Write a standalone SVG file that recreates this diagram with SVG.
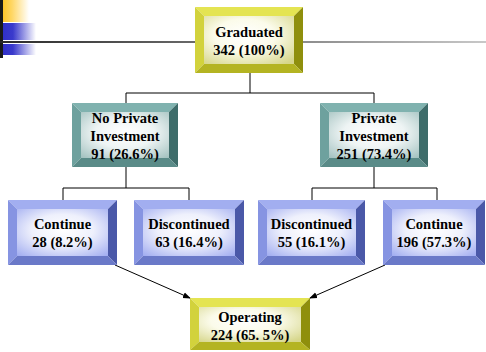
<svg xmlns="http://www.w3.org/2000/svg" width="486" height="352" viewBox="0 0 486 352">
<defs>
<linearGradient id="gYel" x1="0" y1="0" x2="1" y2="0"><stop offset="0" stop-color="#ffc629"/><stop offset="0.35" stop-color="#ffd766"/><stop offset="1" stop-color="#ffffff"/></linearGradient>
<linearGradient id="gBlu" x1="0" y1="0" x2="1" y2="0"><stop offset="0" stop-color="#3030c8"/><stop offset="0.3" stop-color="#3a3acc"/><stop offset="1" stop-color="#ffffff"/></linearGradient>
<linearGradient id="gLine" x1="0" y1="0" x2="1" y2="0"><stop offset="0" stop-color="#2a2a2a"/><stop offset="1" stop-color="#c8c8c8"/></linearGradient>
<radialGradient id="fY" cx="0.45" cy="0.4" r="0.75"><stop offset="0" stop-color="#ffffff"/><stop offset="0.45" stop-color="#fbfbea"/><stop offset="1" stop-color="#d6d68a"/></radialGradient>
<radialGradient id="fT" cx="0.5" cy="0.45" r="0.75"><stop offset="0" stop-color="#ffffff"/><stop offset="0.45" stop-color="#eef4f4"/><stop offset="1" stop-color="#9fbfbd"/></radialGradient>
<radialGradient id="fB" cx="0.5" cy="0.45" r="0.75"><stop offset="0" stop-color="#ffffff"/><stop offset="0.45" stop-color="#eef0fc"/><stop offset="1" stop-color="#9eaaf0"/></radialGradient>
<marker id="arr" markerWidth="8" markerHeight="8" refX="7" refY="4" orient="auto" markerUnits="userSpaceOnUse"><path d="M0,1 L8,4 L0,7 Z" fill="#000"/></marker>
</defs>
<style>
.t{font-family:"Liberation Serif","Times New Roman",serif;font-weight:bold;font-size:14.5px;fill:#000;text-anchor:middle}
.yt{fill:#e4e452}.yl{fill:#d2d23c}.yr{fill:#8f8f0c}.yb{fill:#b4b422}
.tt{fill:#80b2af}.tl{fill:#6ea19e}.tr{fill:#3e6c6a}.tb{fill:#5a8b88}
.bt{fill:#a2aef0}.bl{fill:#8694e2}.br{fill:#4a58a8}.bb{fill:#6a79c8}
.c{stroke:#000;stroke-width:1;fill:none}
</style>
<rect width="486" height="352" fill="#ffffff"/>
<g id="header">
<rect x="0" y="0" width="3" height="58" fill="#1a1a1a"/>
<rect x="3" y="0" width="26" height="22" fill="url(#gYel)"/>
<rect x="3" y="23" width="33" height="17" fill="url(#gBlu)"/>
<rect x="3" y="44" width="33" height="11" fill="url(#gBlu)"/>
<rect x="0" y="41" width="486" height="2" fill="url(#gLine)"/>
</g>
<g id="connectors">
<path class="c" d="M250,73 V93 M126,93 H374 M126,93 V103 M374,93 V103"/>
<path class="c" d="M126,167 V188 M63,188 H189 M63,188 V200 M189,188 V200"/>
<path class="c" d="M374,167 V188 M312,188 H437 M312,188 V200 M437,188 V200"/>
<line class="c" x1="115" y1="265" x2="190" y2="298" marker-end="url(#arr)"/>
<line class="c" x1="385" y1="265" x2="310" y2="298" marker-end="url(#arr)"/>
</g>
<g id="graduated">
<polygon class="yt" points="195,7 303,7 294,16 204,16"/>
<polygon class="yl" points="195,7 204,16 204,64 195,73"/>
<polygon class="yr" points="303,7 303,73 294,64 294,16"/>
<polygon class="yb" points="195,73 303,73 294,64 204,64"/>
<rect x="204" y="16" width="90" height="48" fill="url(#fY)"/>
<text class="t" x="249" y="37">Graduated</text>
<text class="t" x="249" y="55">342 (100%)</text>
</g>
<g id="no-private">
<polygon class="tt" points="72,103 178,103 169,112 81,112"/>
<polygon class="tl" points="72,103 81,112 81,158 72,167"/>
<polygon class="tr" points="178,103 178,167 169,158 169,112"/>
<polygon class="tb" points="72,167 178,167 169,158 81,158"/>
<rect x="81" y="112" width="88" height="46" fill="url(#fT)"/>
<text class="t" x="125" y="123">No Private</text>
<text class="t" x="125" y="141">Investment</text>
<text class="t" x="125" y="159">91 (26.6%)</text>
</g>
<g id="private">
<polygon class="tt" points="320,103 428,103 419,112 329,112"/>
<polygon class="tl" points="320,103 329,112 329,158 320,167"/>
<polygon class="tr" points="428,103 428,167 419,158 419,112"/>
<polygon class="tb" points="320,167 428,167 419,158 329,158"/>
<rect x="329" y="112" width="90" height="46" fill="url(#fT)"/>
<text class="t" x="374" y="123">Private</text>
<text class="t" x="374" y="141">Investment</text>
<text class="t" x="374" y="159">251 (73.4%)</text>
</g>
<g id="continue-28">
<polygon class="bt" points="8,200 117,200 108,209 17,209"/>
<polygon class="bl" points="8,200 17,209 17,256 8,265"/>
<polygon class="br" points="117,200 117,265 108,256 108,209"/>
<polygon class="bb" points="8,265 117,265 108,256 17,256"/>
<rect x="17" y="209" width="91" height="47" fill="url(#fB)"/>
<text class="t" x="62.5" y="229">Continue</text>
<text class="t" x="62.5" y="247">28 (8.2%)</text>
</g>
<g id="discontinued-63">
<polygon class="bt" points="134,200 244,200 235,209 143,209"/>
<polygon class="bl" points="134,200 143,209 143,256 134,265"/>
<polygon class="br" points="244,200 244,265 235,256 235,209"/>
<polygon class="bb" points="134,265 244,265 235,256 143,256"/>
<rect x="143" y="209" width="92" height="47" fill="url(#fB)"/>
<text class="t" x="189" y="229">Discontinued</text>
<text class="t" x="189" y="247">63 (16.4%)</text>
</g>
<g id="discontinued-55">
<polygon class="bt" points="258,200 365,200 356,209 267,209"/>
<polygon class="bl" points="258,200 267,209 267,256 258,265"/>
<polygon class="br" points="365,200 365,265 356,256 356,209"/>
<polygon class="bb" points="258,265 365,265 356,256 267,256"/>
<rect x="267" y="209" width="89" height="47" fill="url(#fB)"/>
<text class="t" x="311.5" y="229">Discontinued</text>
<text class="t" x="311.5" y="247">55 (16.1%)</text>
</g>
<g id="continue-196">
<polygon class="bt" points="383,200 485,200 476,209 392,209"/>
<polygon class="bl" points="383,200 392,209 392,256 383,265"/>
<polygon class="br" points="485,200 485,265 476,256 476,209"/>
<polygon class="bb" points="383,265 485,265 476,256 392,256"/>
<rect x="392" y="209" width="84" height="47" fill="url(#fB)"/>
<text class="t" x="434" y="229">Continue</text>
<text class="t" x="434" y="247">196 (57.3%)</text>
</g>
<g id="operating">
<polygon class="yt" points="190,298 310,298 301,307 199,307"/>
<polygon class="yl" points="190,298 199,307 199,342 190,350"/>
<polygon class="yr" points="310,298 310,350 301,342 301,307"/>
<polygon class="yb" points="190,350 310,350 301,342 199,342"/>
<rect x="199" y="307" width="102" height="35" fill="url(#fY)"/>
<text class="t" x="250" y="322">Operating</text>
<text class="t" x="250" y="340">224 (65. 5%)</text>
</g>
</svg>
